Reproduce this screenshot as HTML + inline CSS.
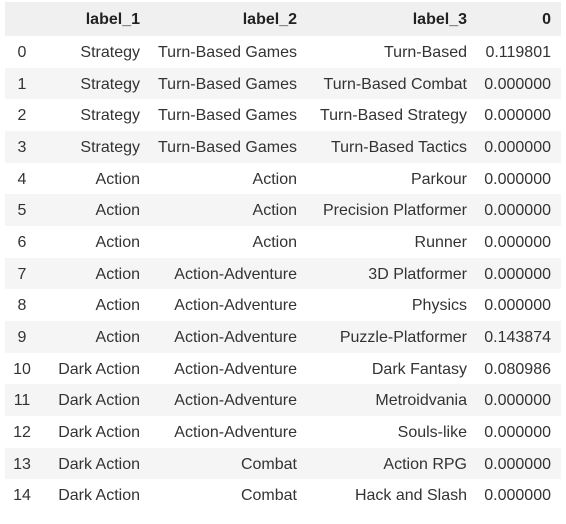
<!DOCTYPE html>
<html><head><style>
body{margin:0;width:566px;height:524px;background:#fff;font-family:"Liberation Sans",sans-serif;font-size:16px;color:#333;position:relative;overflow:hidden}
.r{position:absolute;left:5px;width:556px;height:31.67px}
.g{background:#f5f5f5}
.h{background:#f0f0f0;top:2px;height:34px;font-weight:bold;color:#222}
.c{position:absolute;top:2px;text-align:right;white-space:nowrap}
</style></head><body>
<div id="t"></div>
<script>
const rows=[["Strategy","Turn-Based Games","Turn-Based","0.119801"],["Strategy","Turn-Based Games","Turn-Based Combat","0.000000"],["Strategy","Turn-Based Games","Turn-Based Strategy","0.000000"],["Strategy","Turn-Based Games","Turn-Based Tactics","0.000000"],["Action","Action","Parkour","0.000000"],["Action","Action","Precision Platformer","0.000000"],["Action","Action","Runner","0.000000"],["Action","Action-Adventure","3D Platformer","0.000000"],["Action","Action-Adventure","Physics","0.000000"],["Action","Action-Adventure","Puzzle-Platformer","0.143874"],["Dark Action","Action-Adventure","Dark Fantasy","0.080986"],["Dark Action","Action-Adventure","Metroidvania","0.000000"],["Dark Action","Action-Adventure","Souls-like","0.000000"],["Dark Action","Combat","Action RPG","0.000000"],["Dark Action","Combat","Hack and Slash","0.000000"]];
const R=[135,292,462,546];
function row(cls,top,h,cells,idx){let s=`<div class="r ${cls}" style="top:${top}px;height:${h}px;line-height:${h-2}px">`;
if(idx!==null)s+=`<div class="c" style="left:0;width:34px;text-align:center">${idx}</div>`;
cells.forEach((c,i)=>{s+=`<div class="c" style="right:${556-R[i]}px">${c}</div>`});return s+'</div>';}
let html=row('h',2,34,["label_1","label_2","label_3","0"],null);
rows.forEach((r,i)=>{html+=row(i%2?'g':'',(36+i*31.67).toFixed(2),31.67,r,i)});
document.getElementById('t').innerHTML=html;
</script>
</body></html>
